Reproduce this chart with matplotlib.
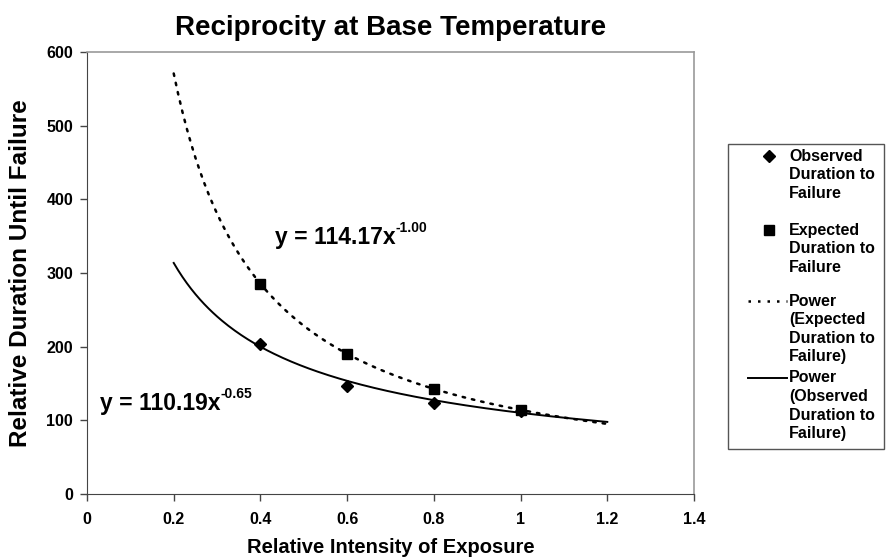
"""Reciprocity at Base Temperature: observed vs expected duration to failure."""

import matplotlib

matplotlib.use("Agg")
import matplotlib.pyplot as plt
import numpy as np
from matplotlib.lines import Line2D
from matplotlib.patches import Rectangle

plt.rcParams["font.family"] = ["Liberation Sans", "DejaVu Sans"]
plt.rcParams["font.weight"] = "bold"

# данные
intensity = [0.4, 0.6, 0.8, 1.0]
observed = [204, 146, 124, 113]
expected = [285, 190, 142, 114]

# коэффициенты степенных трендов (из подписей)
obs_coef, obs_exp = 110.19, -0.65
exp_coef, exp_exp = 114.17, -1.00
trend_range = (0.2, 1.2)

x_ticks = [0, 0.2, 0.4, 0.6, 0.8, 1, 1.2, 1.4]
x_ticklabels = ["0", "0.2", "0.4", "0.6", "0.8", "1", "1.2", "1.4"]
y_ticks = [0, 100, 200, 300, 400, 500, 600]

DOTS = (0, (1, 2.8))

W, H = 886, 559
fig = plt.figure(figsize=(W / 100, H / 100), dpi=100)
ax = fig.add_axes([87 / W, 1 - 494 / H, (694 - 87) / W, (494 - 52) / H])

xs = np.linspace(trend_range[0], trend_range[1], 200)
ax.plot(xs, exp_coef * xs ** exp_exp, color="black", lw=1.8,
        linestyle=DOTS, dash_capstyle="round")
ax.plot(xs, obs_coef * xs ** obs_exp, color="black", lw=1.4)
ax.plot(intensity, observed, "D", color="black", ms=6, zorder=3)
ax.plot(intensity, expected, "s", color="black", ms=7, zorder=3)

ax.set_xlim(0, 1.4)
ax.set_ylim(0, 600)
ax.set_xticks(x_ticks, x_ticklabels)
ax.set_yticks(y_ticks)
ax.tick_params(labelsize=11.5, length=5, width=1, direction="out", color="#444444")
ax.tick_params(axis="x", pad=8)
ax.tick_params(axis="y", pad=5)
for lbl in ax.get_xticklabels() + ax.get_yticklabels():
    lbl.set_fontweight("bold")
for side in ("left", "bottom"):
    ax.spines[side].set_color("#444444")
for side in ("top", "right"):
    ax.spines[side].set_color("#9a9a9a")
    ax.spines[side].set_linewidth(1.2)

ax.set_title("Reciprocity at Base Temperature", fontsize=20, fontweight="bold", pad=12)
ax.set_xlabel("Relative Intensity of Exposure", fontsize=14.5, fontweight="bold", labelpad=8)
ax.set_ylabel("Relative Duration Until Failure", fontsize=17.5, fontweight="bold", labelpad=10)


def power_label(x, y, coef, exponent):
    """Подпись тренда в стиле Excel: основной текст + уменьшенная степень."""
    main = ax.text(x, y, f"y = {coef:.2f}x", fontsize=16.5, fontweight="bold", va="center")
    ax.annotate(f"{exponent:.2f}", xy=(1.0, 0.92), xycoords=main, fontsize=10,
                fontweight="bold", va="center", ha="left")


power_label(0.434, 348, exp_coef, exp_exp)
power_label(0.03, 123, obs_coef, obs_exp)

# легенда в стиле Excel: маркер на уровне первой строки подписи
fig.add_artist(Rectangle((728 / W, 1 - 449 / H), (884 - 728) / W, (449 - 144) / H,
                         transform=fig.transFigure, fill=False, edgecolor="#555555", lw=1))
entries = [
    ("marker", "D", ["Observed", "Duration to", "Failure"], 156),
    ("marker", "s", ["Expected", "Duration to", "Failure"], 230),
    ("line", DOTS, ["Power", "(Expected", "Duration to", "Failure)"], 301),
    ("line", "-", ["Power", "(Observed", "Duration to", "Failure)"], 378),
]
step = 18.6
for kind, style, lines, y0 in entries:
    yf = 1 - y0 / H
    if kind == "marker":
        fig.add_artist(Line2D([769 / W], [yf], marker=style, color="black",
                              ms=6 if style == "D" else 7, linestyle="none",
                              transform=fig.transFigure))
    else:
        fig.add_artist(Line2D([748 / W, 787 / W], [yf, yf], color="black",
                              lw=1.8 if style != "-" else 1.4, linestyle=style,
                              transform=fig.transFigure))
    for i, line in enumerate(lines):
        fig.text(789 / W, 1 - (y0 + i * step) / H, line, fontsize=11.5,
                 fontweight="bold", va="center", ha="left")

fig.savefig("out.png", dpi=100)
